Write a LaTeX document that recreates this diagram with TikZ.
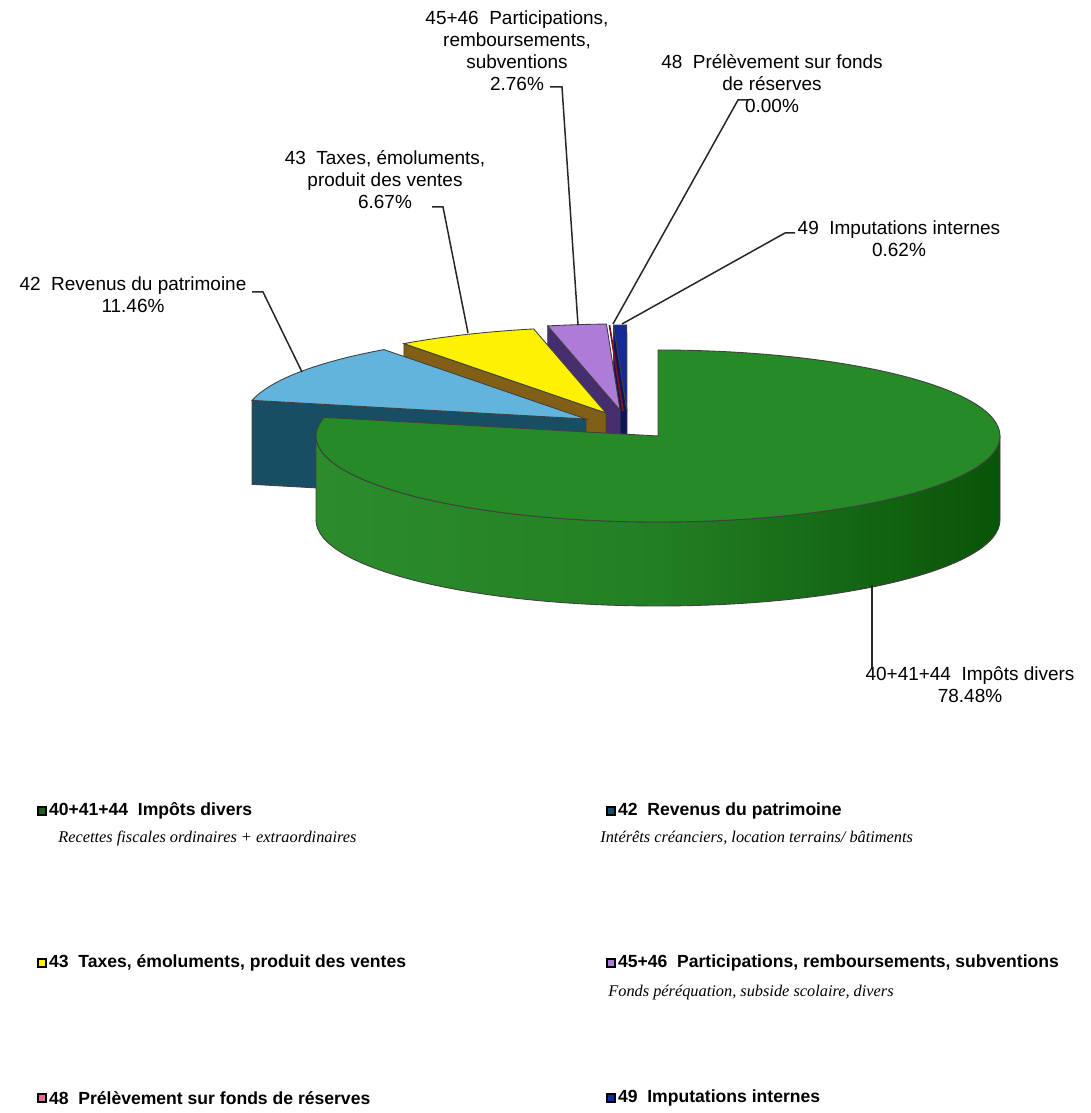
\documentclass[tikz,border=0pt]{standalone}
\usepackage{fontspec}
\setmainfont{Liberation Sans}
\newfontfamily\descfont{Liberation Serif}
\usetikzlibrary{calc,positioning}

\definecolor{greentop}{RGB}{38,138,38}
\definecolor{greenleft}{RGB}{44,140,44}
\definecolor{greenright}{RGB}{8,84,8}
\definecolor{skytop}{RGB}{98,180,220}
\definecolor{tealside}{RGB}{24,78,100}
\definecolor{yellowtop}{RGB}{255,242,0}
\definecolor{brownside}{RGB}{130,95,22}
\definecolor{lilac}{RGB}{172,124,214}
\definecolor{lilacside}{RGB}{70,46,110}
\definecolor{navytop}{RGB}{22,42,150}
\definecolor{navyside}{RGB}{14,20,88}
\definecolor{maroon}{RGB}{125,20,32}
\definecolor{pinkkey}{RGB}{222,110,140}

% one wedge of the pie: centre, from angle, to angle, top colour, side colour
\newcommand{\piewedge}[5]{%
  \filldraw[pieline,fill=#5] (#1) -- ($(#1)+(#2:342 and 86)$) -- ++(0,-84) -- ($(#1)+(0,-84)$) -- cycle;
  \filldraw[pieline,fill=#4] (#1) -- ($(#1)+(#3:342 and 86)$) arc[start angle=#3, end angle=#2, x radius=342, y radius=86] -- cycle;
}

\begin{document}
\begin{tikzpicture}[x=0.02cm,y=0.02cm]
    \tikzstyle{pieline}=[draw=black!75,line width=0.5pt]
    \tikzstyle{pielabel}=[align=center,inner sep=0pt,font=\fontsize{10.8}{12.5}\selectfont]
    \tikzstyle{leader}=[black!85,line width=0.85pt]
    \tikzstyle{legkey}=[draw=black,line width=0.8pt,inner sep=0pt,minimum size=0.16cm]
    \tikzstyle{legtext}=[anchor=west,inner sep=0pt,font=\fontsize{10}{12}\selectfont\bfseries]
    \tikzstyle{legdesc}=[anchor=west,inner sep=0pt,font=\descfont\itshape\fontsize{9.3}{11}\selectfont]

    \useasboundingbox (0,0) rectangle (1091,1113);

    \coordinate (c40) at (658,677);
    \coordinate (c42) at (586,694);
    \coordinate (c43) at (606,700);
    \coordinate (c4546) at (620,703);
    \coordinate (c48) at (623,702);
    \coordinate (c49) at (627,702);

    % back wedges first
    \piewedge{c49}{92.268}{90.036}{navytop}{navyside}
    \draw[maroon,line width=1pt] ($(c48)+(92.268:342 and 86)$) -- (c48);
    \piewedge{c4546}{102.204}{92.268}{lilac}{lilacside}
    \piewedge{c43}{126.216}{102.204}{yellowtop}{brownside}
    \piewedge{c42}{167.472}{126.216}{skytop}{tealside}

    % big wedge
    \shade[left color=greenleft,right color=greenright,middle color=greentop!92!black]
        ($(c40)+(180:342 and 86)$) arc[start angle=180, end angle=360, x radius=342, y radius=86]
        -- ++(0,-84) arc[start angle=360, end angle=180, x radius=342, y radius=86] -- cycle;
    \draw[pieline]
        ($(c40)+(180:342 and 86)$) arc[start angle=180, end angle=360, x radius=342, y radius=86]
        -- ++(0,-84) arc[start angle=360, end angle=180, x radius=342, y radius=86] -- cycle;
    \filldraw[pieline,fill=greentop] (c40) -- ($(c40)+(90:342 and 86)$)
        arc[start angle=90, end angle=-192.528, x radius=342, y radius=86] -- cycle;

    % labels
    \node[pielabel] (l4546) at (517,1062) {45+46~ Participations,\\remboursements,\\subventions\\2.76\%};
    \node[pielabel] (l48) at (772,1029) {48~ Prélèvement sur fonds\\de réserves\\0.00\%};
    \node[pielabel] (l43) at (385,933) {43~ Taxes, émoluments,\\produit des ventes\\6.67\%};
    \node[pielabel] (l42) at (133,818) {42~ Revenus du patrimoine\\11.46\%};
    \node[pielabel] (l49) at (899,874) {49~ Imputations internes\\0.62\%};
    \node[pielabel] (l40) at (970,428) {40+41+44~ Impôts divers\\78.48\%};

    \coordinate (a42) at (252,821);
    \coordinate (s42) at (302,741);
    \coordinate (a43) at (432,906);
    \coordinate (s43) at (468,780);
    \coordinate (a4546) at (550,1026);
    \coordinate (s4546) at (578,788);
    \coordinate (a48) at (748,1013);
    \coordinate (s48) at (613,789);
    \coordinate (a49) at (795,880);
    \coordinate (s49) at (622,789);
    \coordinate (a40) at (872,445);
    \coordinate (s40) at (872,528);

    \draw[leader] (a42) -- ++(11,0) -- (s42);
    \draw[leader] (a43) -- ++(11,0) -- (s43);
    \draw[leader] (a4546) -- ++(12,0) -- (s4546);
    \draw[leader] (a48) -- ++(-10,0) -- (s48);
    \draw[leader] (a49) -- ++(-10,0) -- (s49);
    \draw[leader] (a40) -- (s40);

    % legend
    \node[legkey,fill=greentop!70!black] (k40) at (42,302) {};
    \node[legtext,right=0.04cm of k40] (t40) {40+41+44~ Impôts divers};
    \node[legdesc] (d40) at (58,275) {Recettes fiscales ordinaires + extraordinaires};
    \node[legkey,fill=tealside] (k42) at (611,302) {};
    \node[legtext,right=0.04cm of k42] (t42) {42~ Revenus du patrimoine};
    \node[legdesc] (d42) at (600,275) {Intérêts créanciers, location terrains/ bâtiments};
    \node[legkey,fill=yellowtop] (k43) at (42,150) {};
    \node[legtext,right=0.04cm of k43] (t43) {43~ Taxes, émoluments, produit des ventes};
    \node[legkey,fill=lilac] (k4546) at (611,150) {};
    \node[legtext,right=0.04cm of k4546] (t4546) {45+46~ Participations, remboursements, subventions};
    \node[legdesc] (d4546) at (608,120) {Fonds péréquation, subside scolaire, divers};
    \node[legkey,fill=pinkkey] (k48) at (42,15) {};
    \node[legtext,right=0.04cm of k48] (t48) {48~ Prélèvement sur fonds de réserves};
    \node[legkey,fill=navytop] (k49) at (611,15) {};
    \node[legtext,right=0.04cm of k49] (t49) {49~ Imputations internes};
\end{tikzpicture}
\end{document}
